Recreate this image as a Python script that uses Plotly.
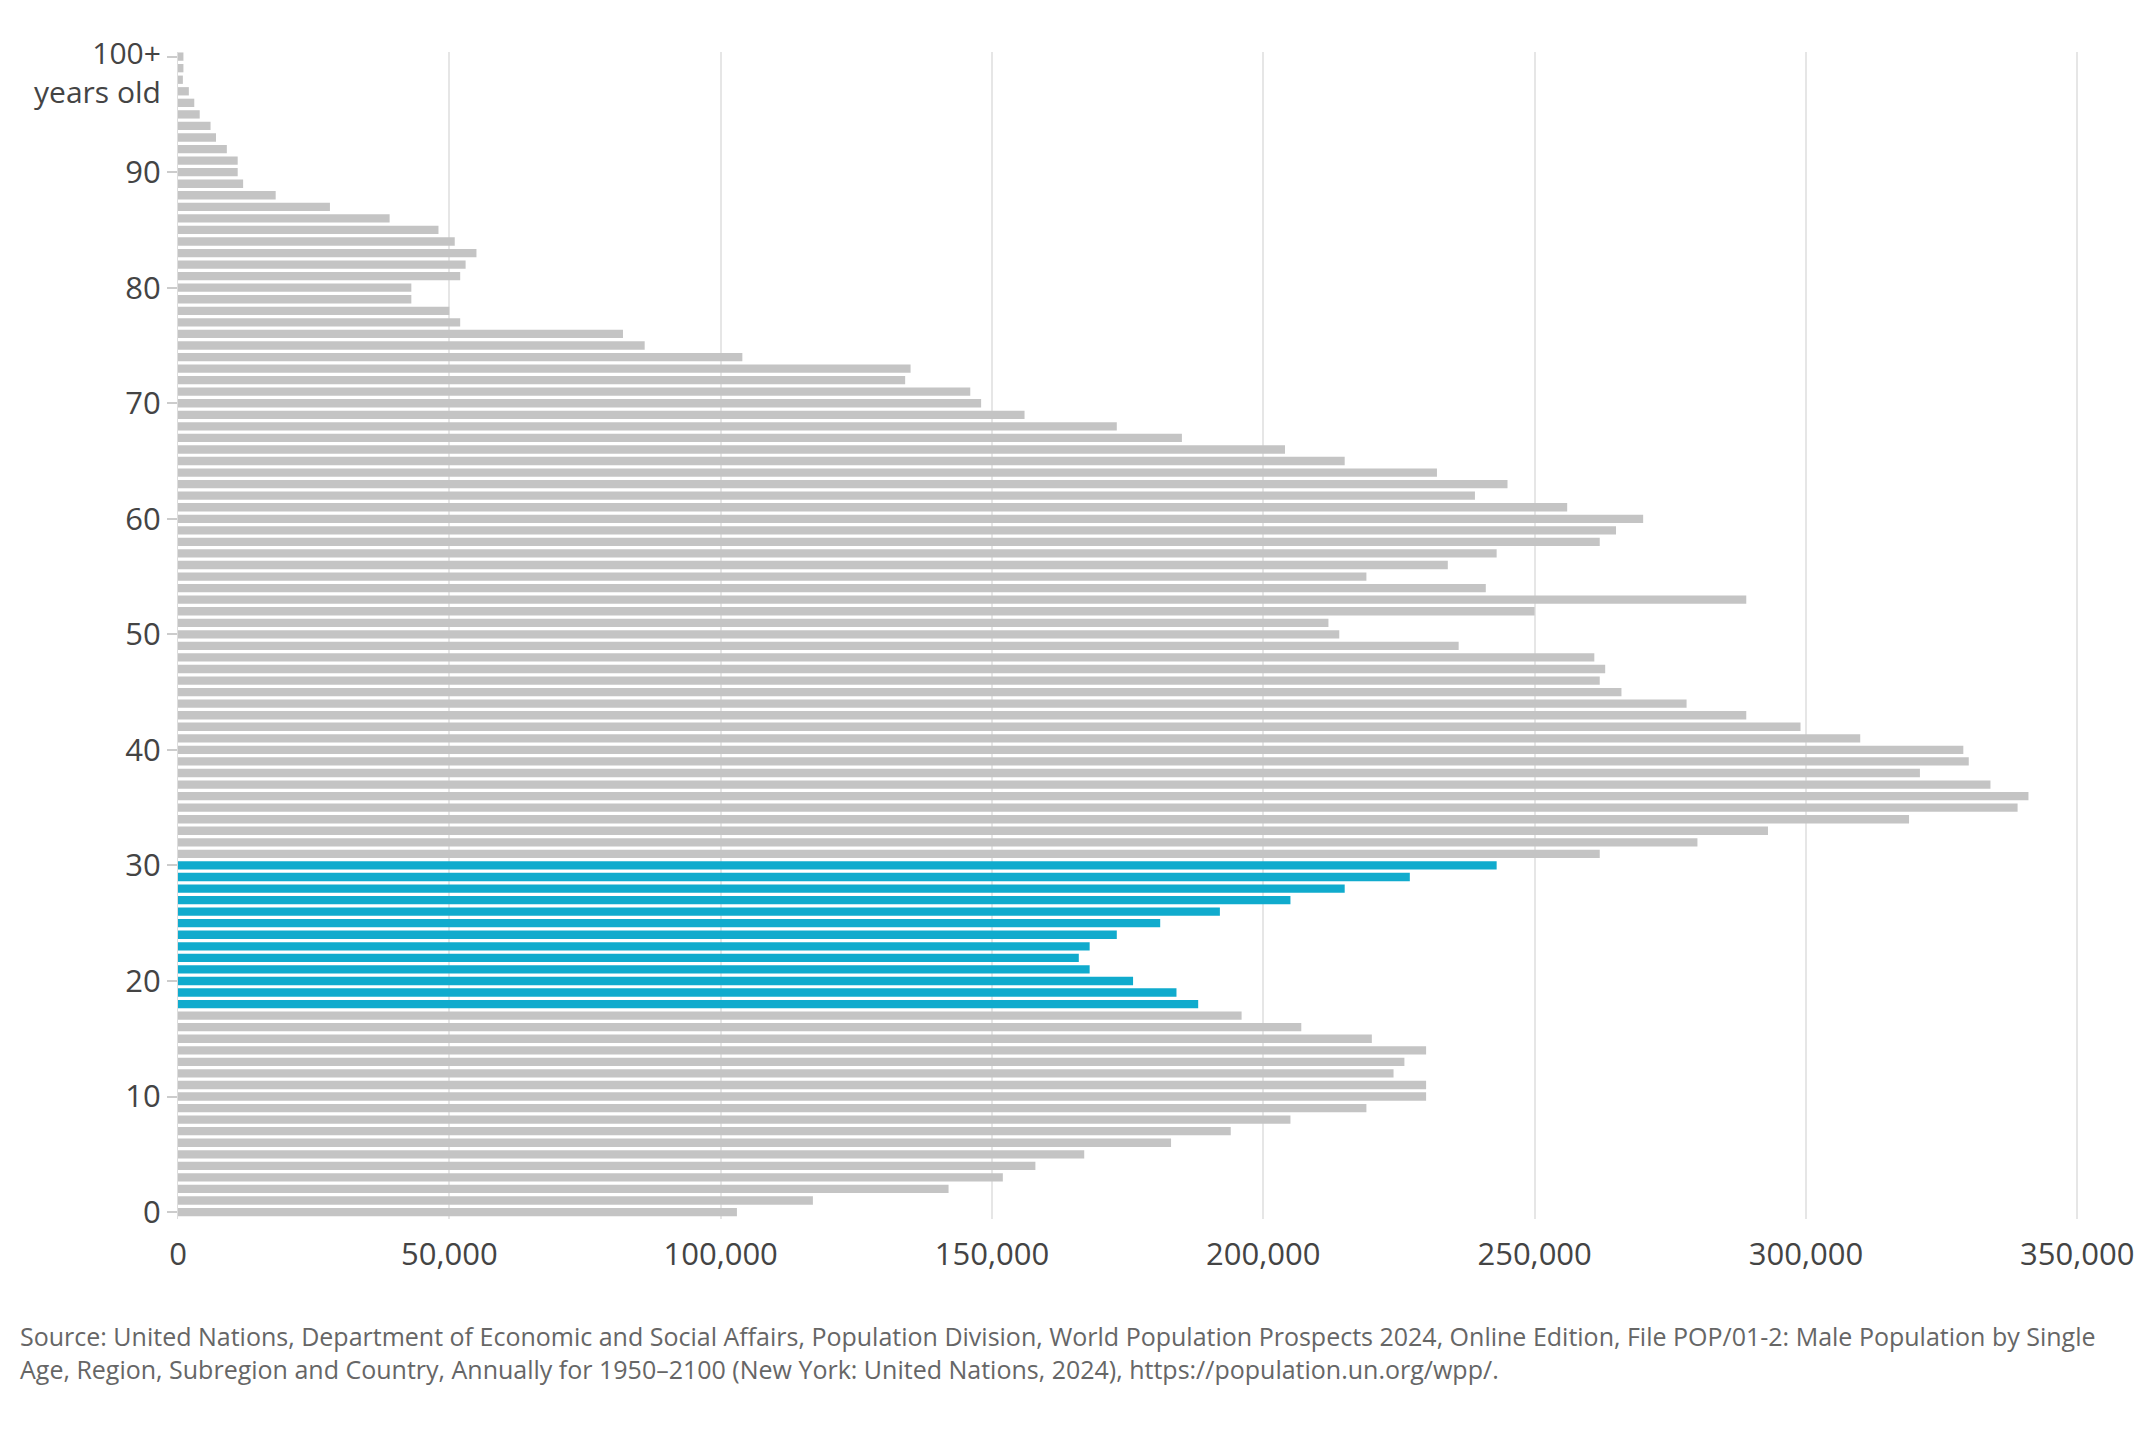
import plotly.graph_objects as go

# Male population by single year of age (0 ... 100+)
ages = list(range(0, 101))
male_pop = [
    103000, 117000, 142000, 152000, 158000, 167000, 183000, 194000, 205000, 219000,  # 0-9
    230000, 230000, 224000, 226000, 230000, 220000, 207000, 196000, 188000, 184000,  # 10-19
    176000, 168000, 166000, 168000, 173000, 181000, 192000, 205000, 215000, 227000,  # 20-29
    243000, 262000, 280000, 293000, 319000, 339000, 341000, 334000, 321000, 330000,  # 30-39
    329000, 310000, 299000, 289000, 278000, 266000, 262000, 263000, 261000, 236000,  # 40-49
    214000, 212000, 250000, 289000, 241000, 219000, 234000, 243000, 262000, 265000,  # 50-59
    270000, 256000, 239000, 245000, 232000, 215000, 204000, 185000, 173000, 156000,  # 60-69
    148000, 146000, 134000, 135000, 104000, 86000, 82000, 52000, 50000, 43000,  # 70-79
    43000, 52000, 53000, 55000, 51000, 48000, 39000, 28000, 18000, 12000,  # 80-89
    11000, 11000, 9000, 7000, 6000, 4000, 3000, 2000, 900, 1000,  # 90-99
    1000,  # 100+
]

# highlighted age band
highlight_from = 18
highlight_to = 30

y_tickvals = [0, 10, 20, 30, 40, 50, 60, 70, 80, 90, 100]
y_ticktext = ["0", "10", "20", "30", "40", "50", "60", "70", "80", "90", ""]
top_label = "100+<br>years old"  # label for the top tick, drawn as one block
x_tickvals = [0, 50000, 100000, 150000, 200000, 250000, 300000, 350000]

source_text = ("Source: United Nations, Department of Economic and Social Affairs, Population Division, "
               "World Population Prospects 2024, Online Edition, File POP/01-2: Male Population by Single<br>"
               "Age, Region, Subregion and Country, Annually for 1950\u20132100 (New York: United Nations, 2024), "
               "https://population.un.org/wpp/.")

GRAY = "#c4c4c4"
BLUE = "#10abcd"
colors = [BLUE if highlight_from <= a <= highlight_to else GRAY for a in ages]

fig = go.Figure()
fig.add_trace(go.Bar(
    x=male_pop, y=ages, orientation="h",
    marker=dict(color=colors, line=dict(width=0)),
    width=0.72,
    hoverinfo="x+y",
))

fig.update_layout(
    width=2152, height=1440,
    paper_bgcolor="white", plot_bgcolor="white",
    margin=dict(l=170, r=80, t=44, b=229),
    font=dict(family="Open Sans, Roboto, Arial, sans-serif", size=31, color="#444444"),
    showlegend=False,
)

fig.update_xaxes(
    range=[0, 350500],
    tickvals=x_tickvals, tickformat=",",
    showgrid=True, gridcolor="#e6e6e6", gridwidth=1.5,
    zeroline=False, showline=False, ticks="",
    ticklabelstandoff=14,
)
fig.update_yaxes(
    range=[-0.6, 100.4],
    tickvals=y_tickvals, ticktext=y_ticktext,
    showgrid=False, zeroline=False,
    showline=True, linecolor="#dddddd", linewidth=1,
    ticks="outside", ticklen=10, tickcolor="#cccccc", tickwidth=1.5,
)

# two-line label of the top age tick
fig.add_annotation(
    xref="paper", yref="y", x=0, y=100, xanchor="right", yanchor="top",
    xshift=-15, yshift=27, text=top_label, showarrow=False, align="right",
    font=dict(size=30, color="#444444"),
)

# source note
fig.add_annotation(
    xref="paper", yref="paper", x=0, y=0, xanchor="left", yanchor="top",
    xshift=-160, yshift=-98, align="left", showarrow=False,
    text=source_text,
    font=dict(size=25, color="#666666"),
)

fig.write_html("out.html")
